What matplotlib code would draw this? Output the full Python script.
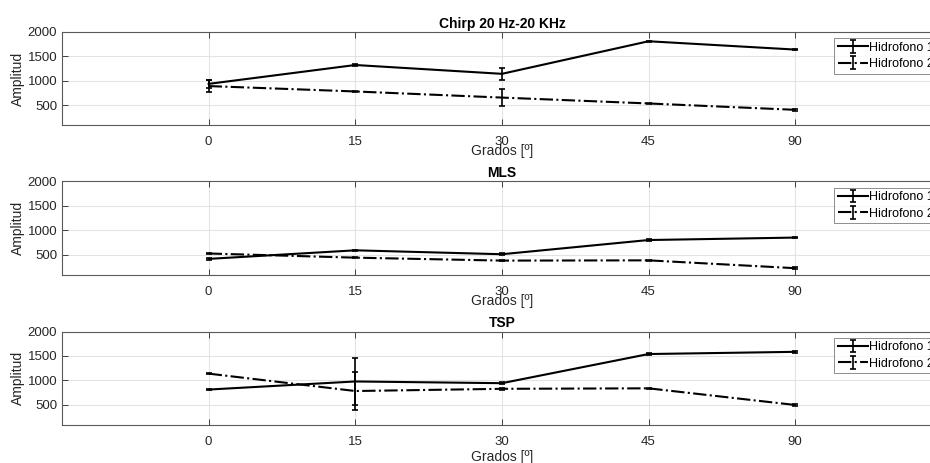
import numpy as np
import matplotlib.pyplot as plt

plt.rcParams['font.family'] = ['Liberation Sans', 'DejaVu Sans']

# Datos
angulos = ['0', '15', '30', '45', '90']
titulos = ['Chirp 20 Hz-20 KHz', 'MLS', 'TSP']

chirp_h1 = [940, 1325, 1145, 1810, 1640]
chirp_h2 = [895, 785, 660, 540, 410]
chirp_e1 = [75, 15, 120, 15, 15]
chirp_e2 = [130, 15, 175, 15, 15]

mls_h1 = [420, 595, 515, 805, 855]
mls_h2 = [530, 445, 385, 390, 230]
mls_e1 = [15, 15, 15, 15, 15]
mls_e2 = [15, 15, 15, 15, 15]

tsp_h1 = [815, 980, 945, 1540, 1585]
tsp_h2 = [1140, 785, 830, 840, 500]
tsp_e1 = [15, 475, 15, 15, 15]
tsp_e2 = [15, 385, 15, 15, 15]

series = [
    (chirp_h1, chirp_e1, chirp_h2, chirp_e2),
    (mls_h1, mls_e1, mls_h2, mls_e2),
    (tsp_h1, tsp_e1, tsp_h2, tsp_e2),
]

fig = plt.figure(figsize=(9.3, 4.63), dpi=100)

# posiciones de los ejes (el borde derecho queda fuera de la imagen)
tops = [0.931, 0.608, 0.284]
alto = 0.201
pads_xlabel = [-3, -3, 2]
x = np.arange(1, len(angulos) + 1)
gris = '#262626'

for i, (h1, e1, h2, e2) in enumerate(series):
    ax = fig.add_axes([0.0667, tops[i] - alto, 0.946, alto])
    ax.errorbar(x, h1, yerr=e1, color='k', lw=1.5, ls='-', capsize=2.5,
                elinewidth=1.2, capthick=1.2, label='Hidrofono 1')
    ax.errorbar(x, h2, yerr=e2, color='k', lw=1.5, ls='-.', capsize=2.5,
                elinewidth=1.2, capthick=1.2, label='Hidrofono 2')
    ax.set_xlim(0, 6)
    ax.set_ylim(100, 2000)
    ax.set_xticks(x)
    ax.set_xticklabels(angulos)
    ax.set_yticks([500, 1000, 1500, 2000])
    ax.grid(True, color='#e3e3e3', lw=0.8)
    ax.set_axisbelow(True)
    ax.tick_params(direction='in', top=True, right=False, length=4,
                   labelsize=9.5, colors=gris, width=0.6)
    ax.tick_params(axis='x', pad=8)
    for s in ax.spines.values():
        s.set_color('#5a5a5a')
        s.set_linewidth(0.8)
    ax.spines['right'].set_visible(False)
    ax.set_title(titulos[i], fontsize=10, fontweight='bold', pad=3)
    ax.set_xlabel('Grados [º]', fontsize=10, color=gris, labelpad=pads_xlabel[i])
    ax.set_ylabel('Amplitud', fontsize=10, color=gris, labelpad=2)
    leg = ax.legend(loc='upper left', bbox_to_anchor=(0.878, 0.935),
                    fontsize=9, frameon=True, fancybox=False,
                    handlelength=2.4, handletextpad=0.05, borderpad=0.3,
                    labelspacing=0.35, borderaxespad=0)
    leg.get_frame().set_edgecolor('#5a5a5a')
    leg.get_frame().set_linewidth(0.6)

fig.savefig('out.png', dpi=100)
